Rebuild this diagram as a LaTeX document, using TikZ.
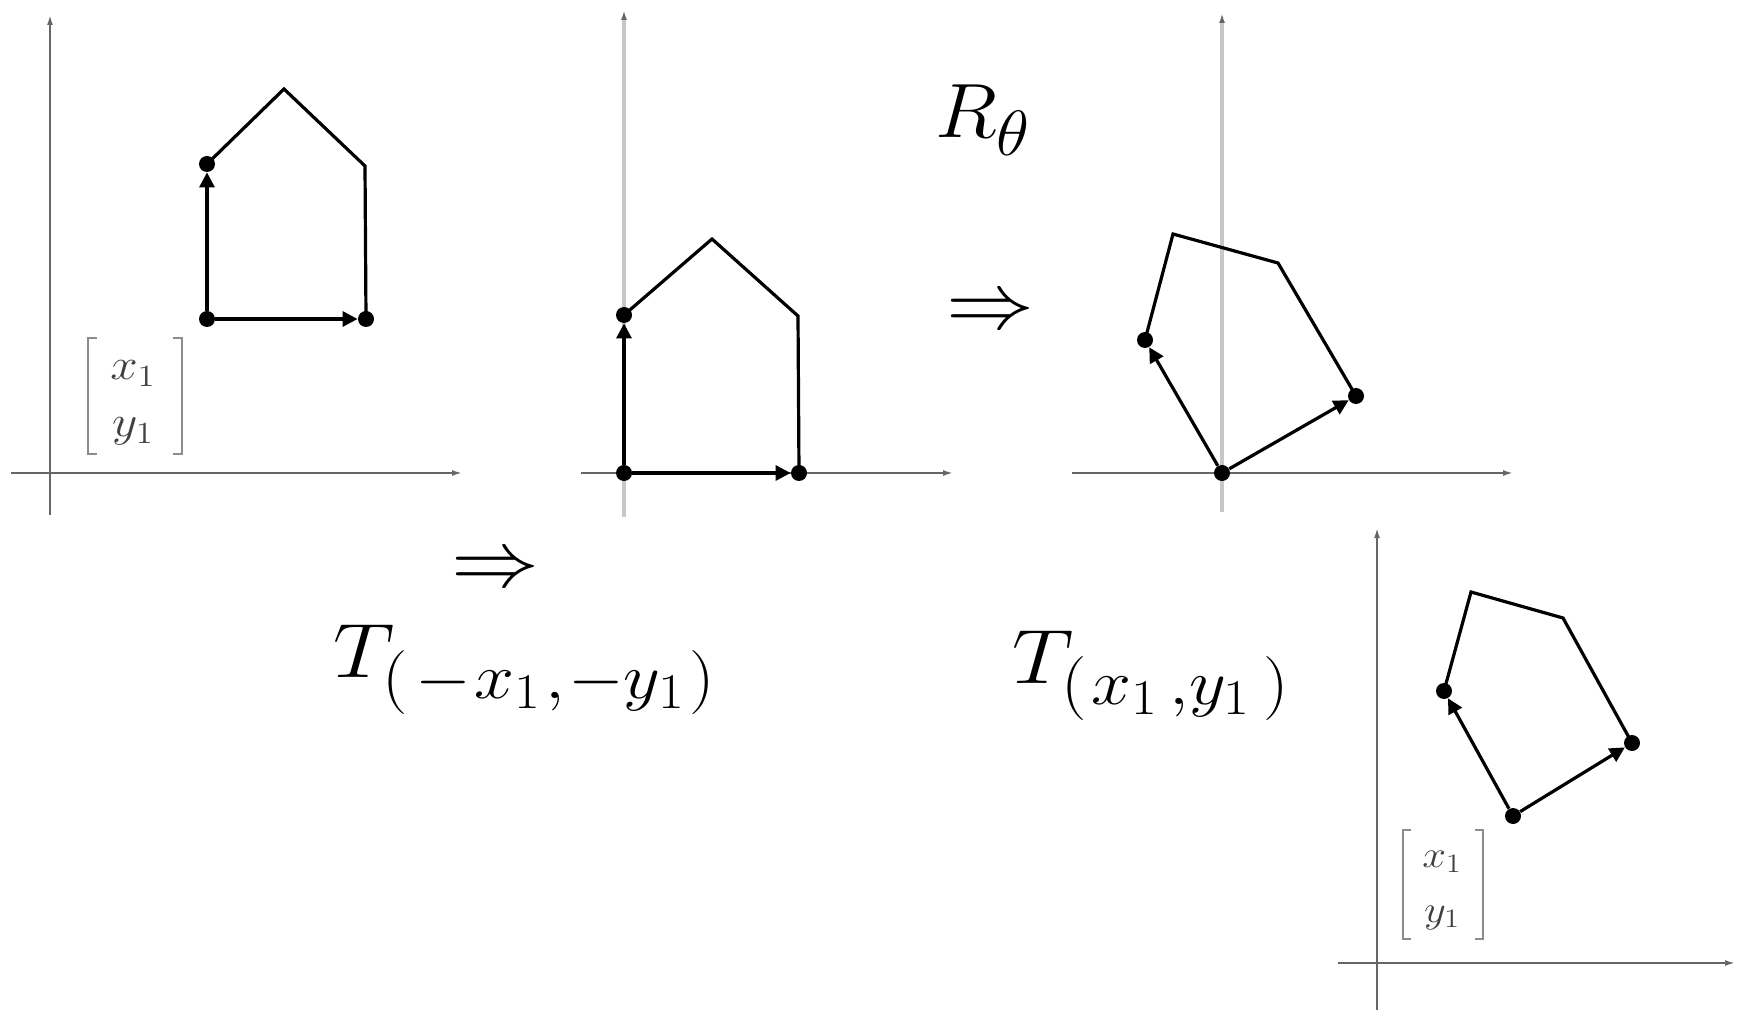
\RequirePackage{fix-cm}
\documentclass[tikz,border=0pt]{standalone}
\usetikzlibrary{arrows.meta}
\DeclareMathSizes{38.5}{38.5}{32}{25}
\DeclareMathSizes{40}{40}{32}{25}
\DeclareMathSizes{22}{22}{15.4}{11}
\DeclareMathSizes{19}{19}{13.3}{9.5}
\begin{document}
\begin{tikzpicture}[x=0.5pt,y=-0.5pt,
  axis/.style={draw=black!60,line width=0.9pt,-{Latex[length=5pt,width=3pt]}},
  band/.style={draw=black!22,line width=2.2pt,-{Latex[length=5pt,width=3pt,color=black!60]}},
  edge/.style={draw=black,line width=1.6pt,line join=miter},
  vec/.style={edge,-{Triangle[length=7.5pt,width=7.5pt]}},
  dot/.style={circle,fill=black,inner sep=0pt,minimum size=8pt},
  lbl/.style={inner sep=0pt,anchor=base west,xscale=1.12,font=\fontsize{38.5}{46}\selectfont},
  bigsym/.style={inner sep=0pt,xscale=1.1,font=\fontsize{40}{48}\selectfont},
  matA/.style={inner sep=0pt,anchor=base,xscale=1.12,text=black!75,font=\fontsize{22}{26}\selectfont},
  matB/.style={inner sep=0pt,anchor=base,xscale=1.12,text=black!75,font=\fontsize{19}{23}\selectfont},
  brk/.style={draw=black!45,line width=0.8pt}
]
\useasboundingbox (0,0) rectangle (1740,1010);

% ---------- panel 1 ----------
\coordinate (p1xl) at (11,473); \coordinate (p1xr) at (462,473);
\coordinate (p1yb) at (50,515); \coordinate (p1yt) at (50,15);
\draw[axis] (p1xl) -- (p1xr);
\draw[axis] (p1yb) -- (p1yt);
\node[dot] (a1) at (207,319) {};
\node[dot] (b1) at (366,319) {};
\node[dot] (c1) at (207,164) {};
\coordinate (d1) at (284,89);
\coordinate (e1) at (365,166);
\draw[edge] (c1.center) -- (d1) -- (e1) -- (b1.center);
\draw[vec] (a1) -- (b1);
\draw[vec] (a1) -- (c1);
\draw[brk] (97,338) -- (88,338) -- (88,454) -- (97,454);
\draw[brk] (173,338) -- (182,338) -- (182,454) -- (173,454);
\node[matA] (m1x) at (133,380) {$x_1$};
\node[matA] (m1y) at (133,437) {$y_1$};

% ---------- panel 2 ----------
\coordinate (p2yb) at (624,517); \coordinate (p2yt) at (624,10);
\coordinate (p2xl) at (581,473); \coordinate (p2xr) at (953,473);
\draw[band] (p2yb) -- (p2yt);
\draw[axis] (p2xl) -- (p2xr);
\node[dot] (o2) at (624,473) {};
\node[dot] (b2) at (799,473) {};
\node[dot] (c2) at (624,315) {};
\coordinate (d2) at (712,239);
\coordinate (e2) at (798,316);
\draw[edge] (c2.center) -- (d2) -- (e2) -- (b2.center);
\draw[vec] (o2) -- (b2);
\draw[vec] (o2) -- (c2);

% ---------- panel 3 ----------
\coordinate (p3yb) at (1222,512); \coordinate (p3yt) at (1222,13);
\coordinate (p3xl) at (1072,473); \coordinate (p3xr) at (1513,473);
\draw[band] (p3yb) -- (p3yt);
\draw[axis] (p3xl) -- (p3xr);
\node[dot] (o3) at (1222,473) {};
\node[dot] (a3) at (1145,340) {};
\node[dot] (b3) at (1356,396) {};
\coordinate (d3) at (1173,234);
\coordinate (e3) at (1278,263);
\draw[edge] (a3.center) -- (d3) -- (e3) -- (b3.center);
\draw[vec] (o3) -- (a3);
\draw[vec] (o3) -- (b3);

% ---------- panel 4 ----------
\coordinate (p4xl) at (1338,963); \coordinate (p4xr) at (1735,963);
\coordinate (p4yb) at (1377,1010); \coordinate (p4yt) at (1377,528);
\draw[axis] (p4xl) -- (p4xr);
\draw[axis] (p4yb) -- (p4yt);
\node[dot] (o4) at (1513,816) {};
\node[dot] (a4) at (1444,691) {};
\node[dot] (b4) at (1632,743) {};
\coordinate (d4) at (1471,592);
\coordinate (e4) at (1563,618);
\draw[edge] (a4.center) -- (d4) -- (e4) -- (b4.center);
\draw[vec] (o4) -- (a4);
\draw[vec] (o4) -- (b4);
\draw[brk] (1411,830) -- (1403,830) -- (1403,939) -- (1411,939);
\draw[brk] (1475,830) -- (1483,830) -- (1483,939) -- (1475,939);
\node[matB] (m4x) at (1442,867) {$x_1$};
\node[matB] (m4y) at (1442,922) {$y_1$};

% ---------- labels ----------
\node[lbl,xscale=0.95] (R) at (935,138) {$R_\theta$};
\node[bigsym] (arr1) at (990,314) {$\Rightarrow$};
\node[bigsym] (arr2) at (495,572) {$\Rightarrow$};
\node[lbl] (T1) at (333,677) {$T_{(\kern3pt-\kern1.5pt x_1\kern2pt,\kern1.5pt-y_1\kern2pt)}$};
\node[lbl] (T2) at (1012,683) {$T_{(\kern2pt x_1\kern5pt,y_1\kern6pt)}$};
\end{tikzpicture}
\end{document}
